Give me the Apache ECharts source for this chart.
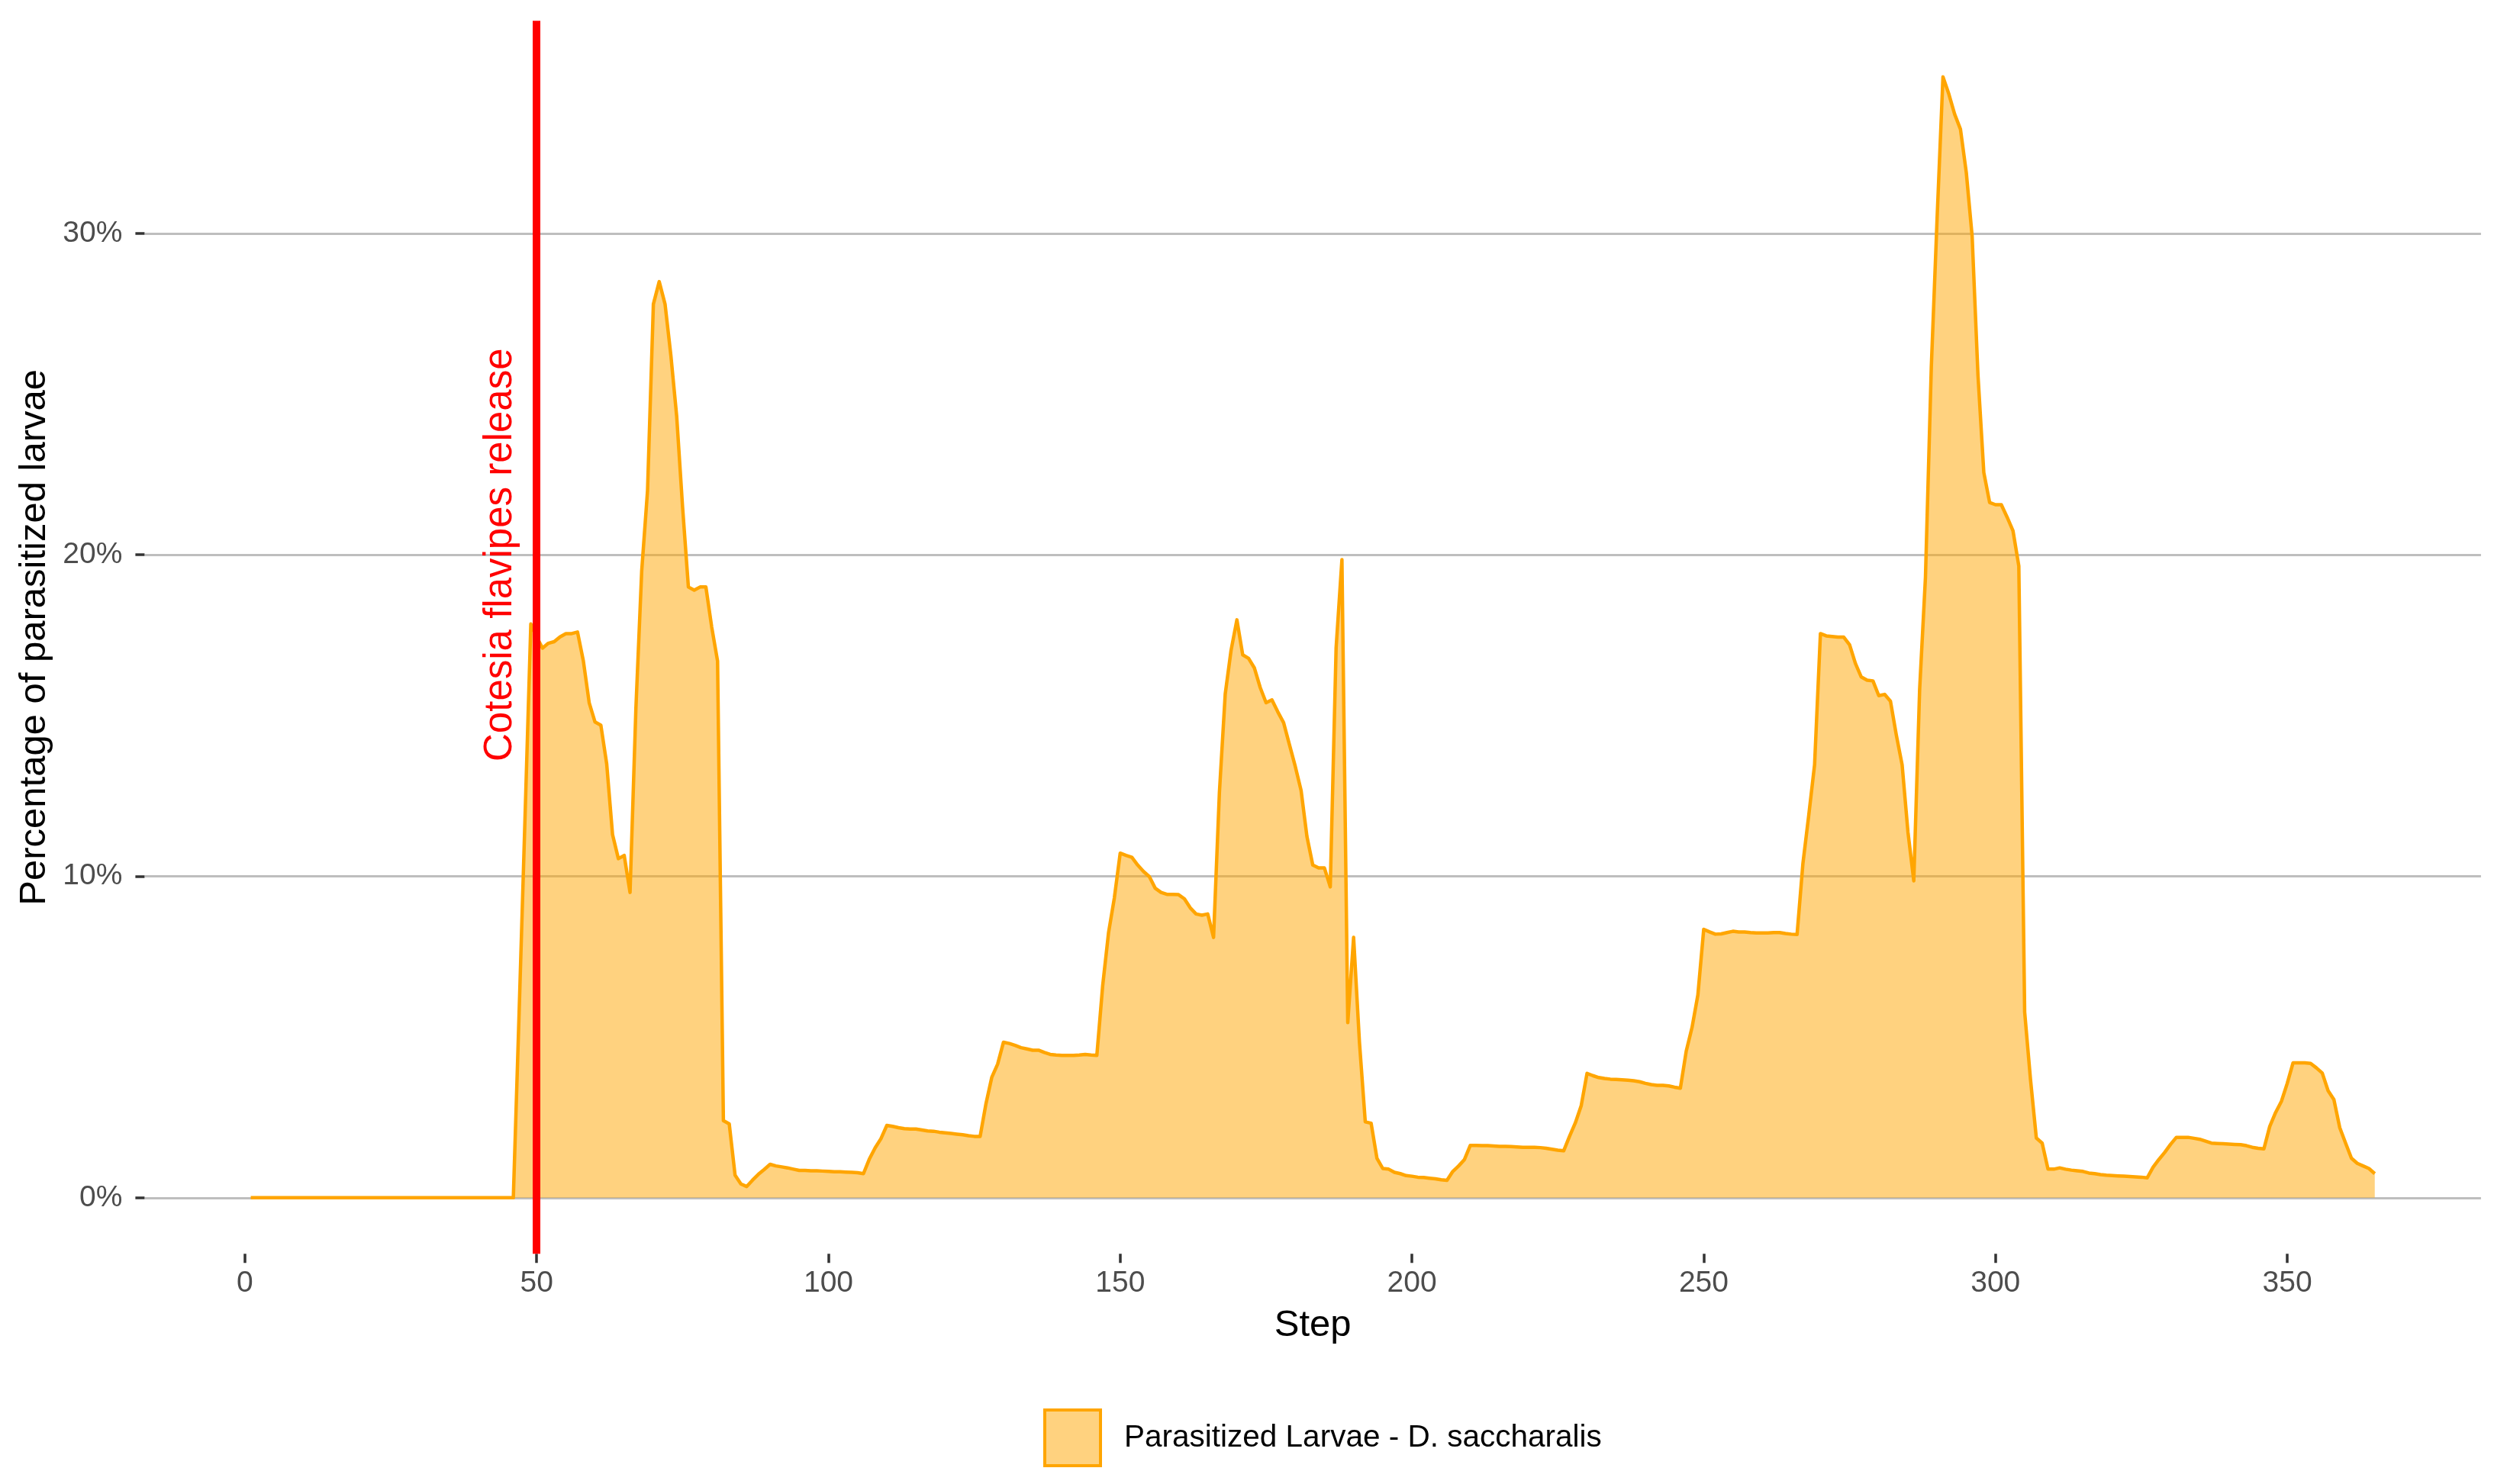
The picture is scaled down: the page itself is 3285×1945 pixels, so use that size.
<!DOCTYPE html>
<html>
<head>
<meta charset="utf-8">
<script src="https://cdn.jsdelivr.net/npm/echarts@6/dist/echarts.min.js"></script>
<style>
  html, body { margin: 0; padding: 0; background: #fff; }
  #chart { width: 3285px; height: 1945px; }
</style>
</head>
<body>
<div id="chart"></div>
<script>
// percentage of parasitized larvae, one value per step (steps 1..365)
var firstStep = 1;
var parasitized = [
    0, 0, 0, 0, 0, 0, 0, 0, 0, 0,
    0, 0, 0, 0, 0, 0, 0, 0, 0, 0,
    0, 0, 0, 0, 0, 0, 0, 0, 0, 0,
    0, 0, 0, 0, 0, 0, 0, 0, 0, 0,
    0, 0, 0, 0, 0, 0, 5.8, 11.8, 17.85, 17.45,
    17.1, 17.25, 17.3, 17.45, 17.55, 17.55, 17.6, 16.7, 15.4, 14.8,
    14.7, 13.5, 11.3, 10.55, 10.65, 9.5, 15.2, 19.5, 22.0, 27.8,
    28.5, 27.8, 26.2, 24.3, 21.5, 19.0, 18.9, 19.0, 19.0, 17.75,
    16.7, 2.4, 2.3, 0.7, 0.43, 0.35, 0.55, 0.73, 0.88, 1.04,
    0.99, 0.96, 0.93, 0.89, 0.85, 0.85, 0.84, 0.84, 0.83, 0.82,
    0.81, 0.81, 0.8, 0.79, 0.78, 0.75, 1.2, 1.55, 1.84, 2.25,
    2.22, 2.18, 2.15, 2.14, 2.14, 2.11, 2.08, 2.07, 2.04, 2.02,
    2.0, 1.98, 1.96, 1.93, 1.91, 1.91, 2.93, 3.75, 4.16, 4.84,
    4.8, 4.74, 4.67, 4.63, 4.59, 4.59, 4.52, 4.46, 4.44, 4.43,
    4.43, 4.43, 4.44, 4.46, 4.44, 4.43, 6.6, 8.24, 9.33, 10.72,
    10.65, 10.59, 10.35, 10.15, 9.99, 9.63, 9.5, 9.44, 9.44, 9.43,
    9.3, 9.02, 8.83, 8.79, 8.83, 8.1, 12.6, 15.67, 17.03, 17.98,
    16.89, 16.78, 16.48, 15.87, 15.4, 15.49, 15.12, 14.78, 14.1, 13.42,
    12.67, 11.24, 10.35, 10.26, 10.26, 9.67, 17.1, 19.85, 5.45, 8.1,
    4.84, 2.36, 2.32, 1.23, 0.91, 0.89, 0.79, 0.75, 0.69, 0.67,
    0.64, 0.63, 0.61, 0.59, 0.56, 0.54, 0.82, 0.99, 1.19, 1.63,
    1.63, 1.62, 1.62, 1.61, 1.6, 1.6, 1.59, 1.58, 1.57, 1.57,
    1.57, 1.56, 1.54, 1.51, 1.48, 1.46, 1.91, 2.33, 2.86, 3.87,
    3.8, 3.74, 3.71, 3.69, 3.68, 3.67, 3.66, 3.64, 3.61, 3.56,
    3.52, 3.5, 3.5, 3.48, 3.44, 3.41, 4.56, 5.3, 6.31, 8.35,
    8.27, 8.2, 8.21, 8.25, 8.29, 8.27, 8.27, 8.25, 8.24, 8.24,
    8.24, 8.25, 8.25, 8.22, 8.2, 8.19, 10.4, 11.9, 13.47, 17.55,
    17.48, 17.46, 17.44, 17.44, 17.2, 16.62, 16.2, 16.1, 16.08, 15.62,
    15.66, 15.45, 14.4, 13.47, 11.38, 9.86, 15.8, 19.3, 25.83, 30.49,
    34.87, 34.34, 33.71, 33.24, 31.89, 29.91, 25.59, 22.56, 21.63, 21.56,
    21.56, 21.17, 20.75, 19.65, 5.78, 3.68, 1.86, 1.7, 0.89, 0.89,
    0.93, 0.89, 0.86, 0.84, 0.82, 0.77, 0.75, 0.72, 0.7, 0.69,
    0.68, 0.67, 0.66, 0.65, 0.64, 0.62, 0.95, 1.19, 1.41, 1.66,
    1.88, 1.88, 1.88, 1.85, 1.82, 1.76, 1.7, 1.69, 1.68, 1.67,
    1.66, 1.65, 1.62, 1.57, 1.54, 1.52, 2.22, 2.65, 3.0, 3.56,
    4.2, 4.2, 4.2, 4.18, 4.04, 3.88, 3.33, 3.05, 2.18, 1.7,
    1.23, 1.07, 0.99, 0.91, 0.75
];
var xTicks = [0, 50, 100, 150, 200, 250, 300, 350];
var yTicks = [0, 10, 20, 30];
var releaseStep = 50;
var seriesName = "Parasitized Larvae - D. saccharalis";
var releaseText = "Cotesia flavipes release";

var points = parasitized.map(function (v, i) {
    return [firstStep + i, v];
});

var font = "'Liberation Sans', Arial, Helvetica, sans-serif";
var myChart = echarts.init(document.getElementById('chart'));
var option = {
    animation: false,
    backgroundColor: "#ffffff",
    textStyle: { fontFamily: font },
    grid: {
        left: 189.4,
        right: 34.1,
        top: 27.3,
        bottom: 301.7,
        outerBoundsMode: "none"
    },
    legend: {
        left: 1362,
        top: 1841,
        itemWidth: 73,
        itemHeight: 73,
        textStyle: {
            color: "#000000",
            fontSize: 40.5,
            fontFamily: font,
            padding: [0, 0, 0, 26]
        },
        data: [
            {
                name: seriesName,
                icon: "rect",
                itemStyle: {
                    color: "rgba(255,165,0,0.5)",
                    borderColor: "#FFA500",
                    borderWidth: 4
                }
            }
        ]
    },
    xAxis: {
        type: "value",
        min: -17.2,
        max: 383.2,
        name: "Step",
        nameLocation: "middle",
        nameGap: 70,
        nameTextStyle: { color: "#000000", fontSize: 49, fontFamily: font },
        axisLine: { show: false, onZero: false },
        axisTick: {
            show: true,
            customValues: xTicks,
            length: 12,
            lineStyle: { color: "#333333", width: 3.5 }
        },
        axisLabel: {
            customValues: xTicks,
            color: "#4D4D4D",
            fontSize: 39,
            margin: 19
        },
        splitLine: { show: false }
    },
    yAxis: {
        type: "value",
        min: -1.7435,
        max: 36.6135,
        name: "Percentage of parasitized larvae",
        nameLocation: "middle",
        nameGap: 119,
        nameTextStyle: { color: "#000000", fontSize: 49, fontFamily: font },
        axisLine: { show: false, onZero: false },
        axisTick: {
            show: true,
            customValues: yTicks,
            length: 12,
            lineStyle: { color: "#333333", width: 3.5 }
        },
        axisLabel: {
            customValues: yTicks,
            formatter: "{value}%",
            color: "#4D4D4D",
            fontSize: 39,
            margin: 29
        },
        splitLine: {
            show: true,
            lineStyle: { color: "#BEBEBE", width: 3.2 }
        }
    },
    series: [
        {
            name: "release",
            type: "line",
            data: [],
            z: 1,
            silent: true,
            markLine: {
                silent: true,
                symbol: ["none", "none"],
                label: { show: false },
                lineStyle: { color: "#FF0000", width: 10, type: "solid" },
                emphasis: { disabled: true },
                data: [{ xAxis: releaseStep }]
            },
            markPoint: {
                silent: true,
                symbol: "rect",
                symbolSize: 1,
                itemStyle: { color: "rgba(0,0,0,0)" },
                label: {
                    show: true,
                    position: "inside",
                    rotate: 90,
                    color: "#FF0000",
                    fontSize: 51,
                    fontFamily: font,
                    formatter: releaseText
                },
                data: [{ coord: [43.8, 20] }]
            }
        },
        {
            name: seriesName,
            type: "line",
            data: points,
            z: 2,
            showSymbol: false,
            symbol: "none",
            lineStyle: { color: "#FFA500", width: 4.5, join: "round" },
            itemStyle: { color: "#FFA500" },
            areaStyle: { color: "rgba(255,165,0,0.5)", opacity: 1 }
        }
    ]
};
myChart.setOption(option);
</script>
</body>
</html>
